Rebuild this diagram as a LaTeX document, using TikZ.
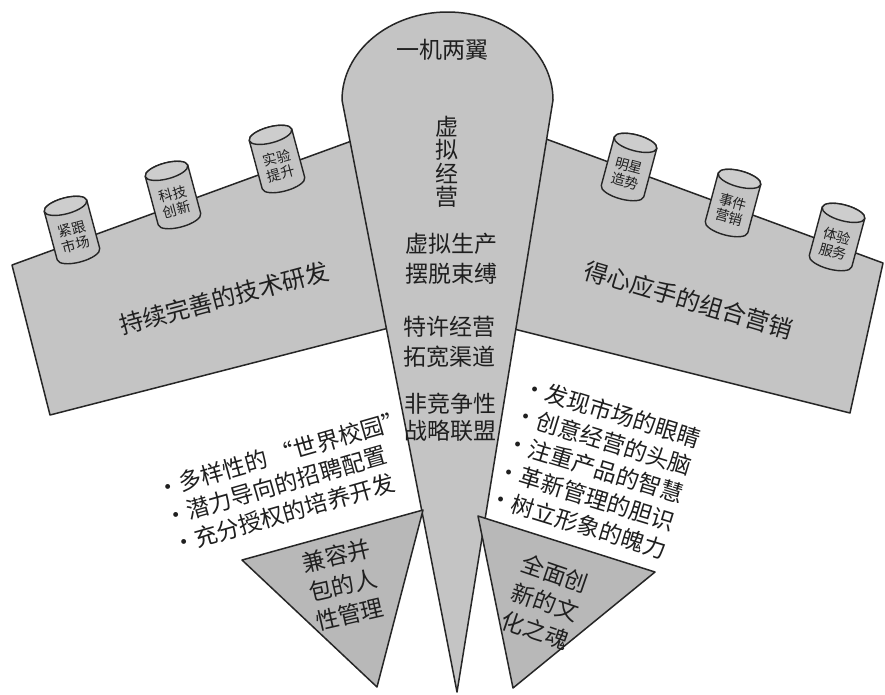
\documentclass[tikz,border=0pt]{standalone}
\usepackage{fontspec}
\setmainfont{Noto Sans CJK SC}
\definecolor{shapegray}{gray}{0.77}
\definecolor{trigray}{gray}{0.72}
\definecolor{inkcol}{gray}{0.12}
\definecolor{edgecol}{gray}{0.15}
\newcommand\cylinderat[5]{%
  \begin{scope}[shift={(#1,#2)}, rotate=#3]
    \path[cylbody] (-22pt,25pt) -- (-22pt,-25pt)
      arc[start angle=180,end angle=360,x radius=22pt,y radius=8pt]
      -- (22pt,25pt)
      arc[start angle=0,end angle=180,x radius=22pt,y radius=8pt] -- cycle;
    \path[cyltop] (0pt,25pt) ellipse[x radius=22pt, y radius=8pt];
    \node[cyltext, transform shape] (#4) at (0pt,-7pt) {#5};
  \end{scope}}
\begin{document}
\begin{tikzpicture}[x=1pt,y=-1pt,
  panel/.style={fill=shapegray, draw=edgecol, line width=1.5pt, line join=round},
  tripanel/.style={fill=trigray, draw=edgecol, line width=1.5pt, line join=round},
  cylbody/.style={fill=shapegray, draw=edgecol, line width=1.4pt, line join=round},
  cyltop/.style={fill=shapegray!85!white, draw=edgecol, line width=1.4pt},
  cyltext/.style={text=inkcol, align=center, inner sep=0pt, font=\fontsize{14}{16}\selectfont},
  bigtext/.style={text=inkcol, align=center, inner sep=0pt, font=\fontsize{23}{30}\selectfont},
  wingtext/.style={text=inkcol, inner sep=0pt, font=\fontsize{24}{29}\selectfont},
  listtext/.style={text=inkcol, align=left, inner sep=0pt, font=\fontsize{23}{29}\selectfont},
  tritext/.style={text=inkcol, align=left, inner sep=0pt, font=\fontsize{23}{30}\selectfont}]
\useasboundingbox (0,0) rectangle (885,694);
\fill[white] (0,0) rectangle (885,694);

% wings
\path[panel] (12,265) -- (420,116) -- (420,320) -- (50,415) -- cycle;
\path[panel] (470,111) -- (883,263) -- (850,413) -- (470,318) -- cycle;

% cylinders
\cylinderat{72}{230}{15}{c1}{紧跟\\市场}
\cylinderat{173}{195}{15}{c2}{科技\\创新}
\cylinderat{277}{159}{15}{c3}{实验\\提升}
\cylinderat{629}{167}{-15}{c4}{明星\\造势}
\cylinderat{733}{203}{-15}{c5}{事件\\营销}
\cylinderat{837}{237}{-15}{c6}{体验\\服务}

% wing texts
\node[wingtext, rotate=15] (lt) at (224,298) {持续完善的技术研发};
\node[wingtext, rotate=-16.5] (rt) at (689,300) {得心应手的组合营销};

% central body
\path[panel] (342,100) arc[start angle=180,end angle=0,x radius=105.5pt,y radius=88pt]
  -- (457,692) -- cycle;

\node[bigtext] (title) at (442,50) {一机两翼};
\node[bigtext, font=\fontsize{23}{23.5}\selectfont] (vv) at (447,162) {虚\\拟\\经\\营};
\node[bigtext] (v1) at (451,259) {虚拟生产\\摆脱束缚};
\node[bigtext] (v2) at (449,342) {特许经营\\拓宽渠道};
\node[bigtext, font=\fontsize{23}{27}\selectfont] (v3) at (450,417) {非竞争性\\战略联盟};

% triangles
\path[tripanel] (242,560) -- (423,510) -- (377,687) -- cycle;
\path[tripanel] (478,516) -- (655,572) -- (513,688) -- cycle;
\node[tritext, rotate=13] (lm) at (343,585) {兼容并\\包的人\\性管理};
\node[tritext, rotate=-19] (rm) at (545,602) {全面创\\新的文\\化之魂};

% lists
\node[listtext, rotate=16] (hl) at (289,482) {•多样性的 “世界校园”\\•潜力导向的招聘配置\\•充分授权的培养开发};
\node[listtext, rotate=-17] (hr) at (595,468) {•发现市场的眼睛\\•创意经营的头脑\\•注重产品的智慧\\•革新管理的胆识\\•树立形象的魄力};
\end{tikzpicture}
\end{document}
